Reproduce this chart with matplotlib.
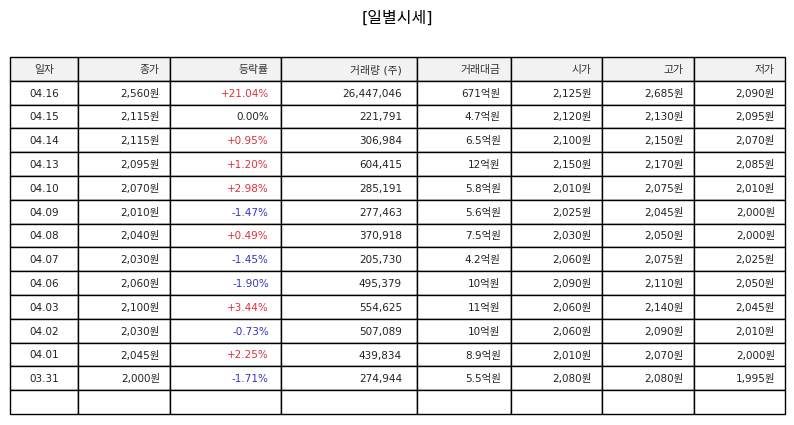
import matplotlib
matplotlib.use("Agg")
import matplotlib.pyplot as plt

plt.rcParams['font.family'] = ['DejaVu Sans', 'Noto Sans CJK KR']

columns = ["일자", "종가", "등락률", "거래량 (주)", "거래대금", "시가", "고가", "저가"]
dates = ["04.16", "04.15", "04.14", "04.13", "04.10", "04.09", "04.08",
         "04.07", "04.06", "04.03", "04.02", "04.01", "03.31"]
close = [2560, 2115, 2115, 2095, 2070, 2010, 2040, 2030, 2060, 2100, 2030, 2045, 2000]
change = [21.04, 0.00, 0.95, 1.20, 2.98, -1.47, 0.49, -1.45, -1.90, 3.44, -0.73, 2.25, -1.71]
volume = [26447046, 221791, 306984, 604415, 285191, 277463, 370918,
          205730, 495379, 554625, 507089, 439834, 274944]
amount = ["671억원", "4.7억원", "6.5억원", "12억원", "5.8억원", "5.6억원", "7.5억원",
          "4.2억원", "10억원", "11억원", "10억원", "8.9억원", "5.5억원"]
open_ = [2125, 2120, 2100, 2150, 2010, 2025, 2030, 2060, 2090, 2060, 2060, 2010, 2080]
high = [2685, 2130, 2150, 2170, 2075, 2045, 2050, 2075, 2110, 2140, 2090, 2070, 2080]
low = [2090, 2095, 2070, 2085, 2010, 2000, 2000, 2025, 2050, 2045, 2010, 2000, 1995]

col_widths = [68, 92, 111, 136, 94, 91, 92, 91]


def won(v):
    return f"{v:,}원"


def pct(v):
    if v > 0:
        return f"+{v:.2f}%"
    return f"{v:.2f}%"


rows = []
for i in range(len(dates)):
    rows.append([dates[i], won(close[i]), pct(change[i]), f"{volume[i]:,}",
                 amount[i], won(open_[i]), won(high[i]), won(low[i])])
rows.append([""] * len(columns))

fig = plt.figure(figsize=(7.94, 4.25), dpi=100)
ax = fig.add_axes([0, 0, 1, 1])
ax.axis('off')

W, H = 794, 425
left, right, top, bottom = 10, 785, 57, 414
tw = sum(col_widths)
tbl = ax.table(cellText=rows, colLabels=columns,
               colWidths=[w / tw for w in col_widths],
               bbox=[left / W, 1 - bottom / H, (right - left) / W, (bottom - top) / H])
tbl.auto_set_font_size(False)
tbl.set_fontsize(7.5)

for (r, c), cell in tbl.get_celld().items():
    cell.set_edgecolor('black')
    cell.set_linewidth(1.0)
    cell.PAD = 0.11
    txt = cell.get_text()
    txt.set_verticalalignment('center_baseline')
    if c == 0:
        txt.set_horizontalalignment('center')
    else:
        txt.set_horizontalalignment('right')
    if r == 0:
        cell.set_facecolor('#f2f2f2')
        txt.set_color('#333333')
        txt.set_fontsize(7.8)
    else:
        cell.set_facecolor('white')
        if c == 2 and r - 1 < len(change):
            v = change[r - 1]
            if v > 0:
                txt.set_color('#e0303c')
            elif v < 0:
                txt.set_color('#3333c4')
            else:
                txt.set_color('#222222')
        else:
            txt.set_color('#222222')

fig.text(0.5, 1 - 18 / H, "[일별시세]", ha='center', va='center', fontsize=11.5)

fig.savefig("out.png", dpi=100)
